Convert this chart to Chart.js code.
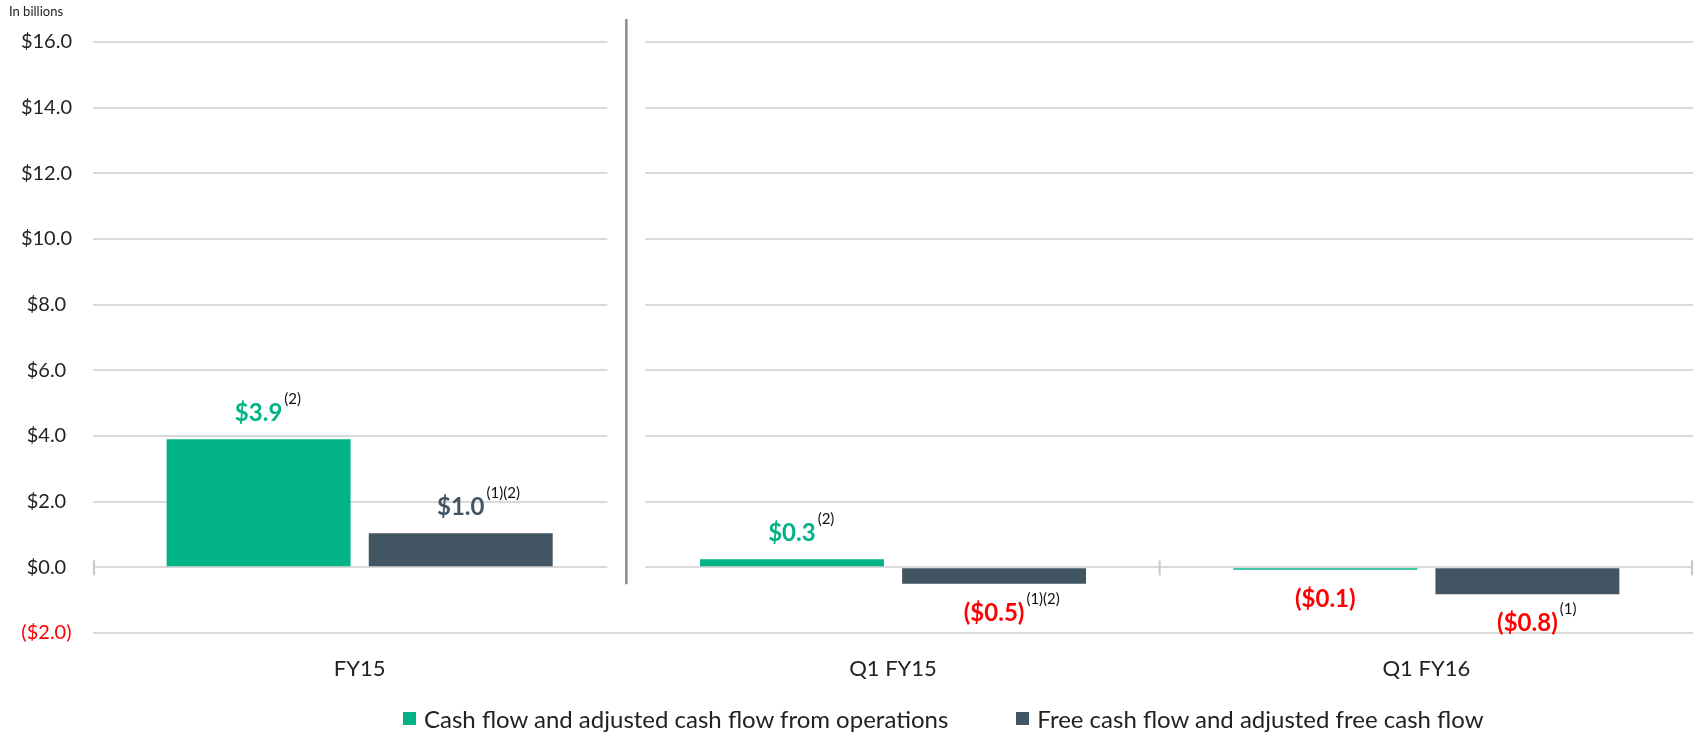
<!DOCTYPE html>
<html>
<head>
<meta charset="utf-8">
<script src="https://cdn.jsdelivr.net/npm/chart.js@4.4.0/dist/chart.umd.min.js"></script>
<style>
  body { margin: 0; background: #fff; }
  #wrap { position: relative; width: 1696px; height: 735px; }
  #legend {
    position: absolute; top: 704px; left: 403px;
    display: flex; align-items: center;
    font-family: Lato, sans-serif; font-size: 24px; color: #222;
  }
  #legend .item { display: flex; align-items: center; margin-right: 68px; }
  #legend .box { width: 13px; height: 13px; margin-right: 8px; }
</style>
</head>
<body>
<div id="wrap">
  <canvas id="cashChart"></canvas>
  <div id="legend"></div>
</div>
<script>
// data
const categories = ["FY15", "Q1 FY15", "Q1 FY16"];
const cashFlowOps = [3.9, 0.25, -0.07];
const freeCashFlow = [1.04, -0.5, -0.82];
const opsLabels = ["$3.9", "$0.3", "($0.1)"];
const opsNotes = ["(2)", "(2)", ""];
const fcfLabels = ["$1.0", "($0.5)", "($0.8)"];
const fcfNotes = ["(1)(2)", "(1)(2)", "(1)"];
const seriesNames = [
  "Cash flow and adjusted cash flow from operations",
  "Free cash flow and adjusted free cash flow",
];
const yMin = -2;
const yMax = 16;
const yStep = 2;

const green = "#01b386";
const slate = "#425563";
const red = "#ff0000";
const gridColor = "#d9d9d9";
const fontFamily = "Lato, sans-serif";

const valueLabels = [opsLabels, fcfLabels];
const valueNotes = [opsNotes, fcfNotes];
const seriesColors = [green, slate];

function formatTick(v) {
  if (v < 0) return "($" + Math.abs(v).toFixed(1) + ")";
  return "$" + v.toFixed(1);
}

// separator, gaps in the grid, ticks on the zero line, unit note
const decorPlugin = {
  id: "decor",
  beforeDatasetsDraw(chart) {
    const { ctx, chartArea, scales } = chart;
    const x = scales.x;
    const y = scales.y;
    const zero = y.getPixelForValue(0);
    const step = x.getPixelForValue(1) - x.getPixelForValue(0);
    const sepX = x.getPixelForValue(0) + step / 2;
    ctx.save();
    // white gap around the separator
    ctx.fillStyle = "#fff";
    ctx.fillRect(sepX - 19, chartArea.top - 3, 38, zero - chartArea.top + 7);
    // separator
    ctx.strokeStyle = "#8a8a8a";
    ctx.lineWidth = 2.5;
    ctx.beginPath();
    ctx.moveTo(sepX, 19);
    ctx.lineTo(sepX, zero + 17);
    ctx.stroke();
    // ticks on zero line
    ctx.strokeStyle = "#c8c8c8";
    ctx.lineWidth = 2;
    [chartArea.left + 1, x.getPixelForValue(1) + step / 2, chartArea.right - 1].forEach((tx) => {
      ctx.beginPath();
      ctx.moveTo(tx, zero - 7);
      ctx.lineTo(tx, zero + 8);
      ctx.stroke();
    });
    // unit note
    ctx.fillStyle = "#222";
    ctx.font = "13px " + fontFamily;
    ctx.textAlign = "left";
    ctx.textBaseline = "alphabetic";
    ctx.fillText("In billions", 9, 16);
    ctx.restore();
  },
  afterDatasetsDraw(chart) {
    const { ctx } = chart;
    ctx.save();
    chart.data.datasets.forEach((ds, i) => {
      const meta = chart.getDatasetMeta(i);
      meta.data.forEach((bar, j) => {
        const v = ds.data[j];
        const text = valueLabels[i][j];
        const note = valueNotes[i][j];
        const base = v >= 0 ? bar.y - 18 : bar.y + 37;
        ctx.font = "bold 24px " + fontFamily;
        ctx.fillStyle = v < 0 ? red : seriesColors[i];
        ctx.textAlign = "center";
        ctx.textBaseline = "alphabetic";
        ctx.fillText(text, bar.x, base);
        if (note) {
          const w = ctx.measureText(text).width;
          ctx.font = "15px " + fontFamily;
          ctx.fillStyle = "#111";
          ctx.textAlign = "left";
          ctx.fillText(note, bar.x + w / 2 + 2, base - 17);
        }
      });
    });
    ctx.restore();
  },
};

const ctx = document.getElementById("cashChart").getContext("2d");

const cashChart = new Chart(ctx, {
  type: "bar",
  data: {
    labels: categories,
    datasets: [
      {
        label: seriesNames[0],
        data: cashFlowOps,
        backgroundColor: green,
        categoryPercentage: 0.758,
        barPercentage: 0.91,
      },
      {
        label: seriesNames[1],
        data: freeCashFlow,
        backgroundColor: slate,
        categoryPercentage: 0.758,
        barPercentage: 0.91,
      },
    ],
  },
  options: {
    responsive: true,
    maintainAspectRatio: false,
    animation: false,
    layout: { padding: { top: 42, right: 3, left: 0, bottom: 0 } },
    plugins: {
      legend: { display: false },
      tooltip: { enabled: false },
    },
    scales: {
      x: {
        grid: { display: false },
        border: { display: false },
        ticks: {
          color: "#222",
          padding: 15,
          font: { family: fontFamily, size: 22 },
        },
        afterFit: (scale) => {
          scale.height = 102;
        },
      },
      y: {
        min: yMin,
        max: yMax,
        grid: { color: gridColor, lineWidth: 2, drawTicks: false },
        border: { display: false },
        ticks: {
          stepSize: yStep,
          padding: 21,
          crossAlign: "center",
          color: (c) => (c.tick.value < 0 ? red : "#222"),
          font: { family: fontFamily, size: 20 },
          callback: (v) => formatTick(v),
        },
        afterFit: (scale) => {
          scale.width = 93;
        },
      },
    },
  },
  plugins: [decorPlugin],
});

// html legend
const legendEl = document.getElementById("legend");
cashChart.data.datasets.forEach((ds) => {
  const item = document.createElement("div");
  item.className = "item";
  const box = document.createElement("span");
  box.className = "box";
  box.style.background = ds.backgroundColor;
  const label = document.createElement("span");
  label.textContent = ds.label;
  item.appendChild(box);
  item.appendChild(label);
  legendEl.appendChild(item);
});
</script>
</body>
</html>
